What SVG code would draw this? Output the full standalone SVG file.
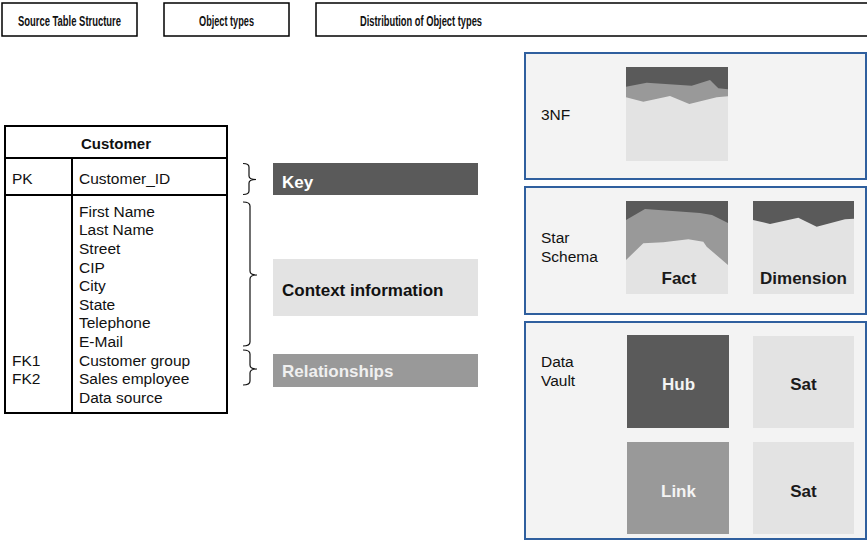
<svg xmlns="http://www.w3.org/2000/svg" width="867" height="541" viewBox="0 0 867 541">
  <style>
    text { font-family: "Liberation Sans", Arial, sans-serif; }
    .hdr { fill: #fff; stroke: #000; stroke-width: 1.5; }
    .hdr-t { font-size: 15.5px; font-weight: bold; fill: #111; text-anchor: middle; }
    .tbl { fill: #fff; stroke: #000; stroke-width: 2; }
    .tbl-line { stroke: #000; stroke-width: 2; fill: none; }
    .fld { font-size: 15.5px; fill: #111; }
    .brace { fill: none; stroke: #111; stroke-width: 1.2; }
    .ot { font-size: 17px; font-weight: bold; }
    .panel { fill: #f3f3f3; stroke: #2f5f9e; stroke-width: 2; }
    .plabel { font-size: 15.5px; fill: #111; }
    .dark { fill: #5a5a5a; }
    .mid { fill: #999999; }
    .light { fill: #e3e3e3; }
    .lbl-w { font-size: 17px; font-weight: bold; fill: #f4f4f4; text-anchor: middle; }
    .lbl-d { font-size: 17px; font-weight: bold; fill: #1a1a1a; text-anchor: middle; }
  </style>

  <!-- column headers -->
  <g id="header-source">
    <rect class="hdr" x="2" y="3" width="135" height="33"/>
    <text class="hdr-t" x="69.5" y="26" textLength="103" lengthAdjust="spacingAndGlyphs">Source Table Structure</text>
  </g>
  <g id="header-objects">
    <rect class="hdr" x="164" y="3" width="125" height="33"/>
    <text class="hdr-t" x="226.5" y="26" textLength="55" lengthAdjust="spacingAndGlyphs">Object types</text>
  </g>
  <g id="header-distribution">
    <rect class="hdr" x="316" y="3" width="560" height="33"/>
    <text class="hdr-t" x="421" y="26" textLength="122" lengthAdjust="spacingAndGlyphs">Distribution of Object types</text>
  </g>

  <!-- source table -->
  <g id="customer-table">
    <rect class="tbl" x="5" y="126" width="222" height="287"/>
    <line class="tbl-line" x1="5" y1="158" x2="227" y2="158"/>
    <line class="tbl-line" x1="5" y1="195" x2="227" y2="195"/>
    <line class="tbl-line" x1="72" y1="158" x2="72" y2="413"/>
    <text x="116" y="149" font-size="15" font-weight="bold" text-anchor="middle" fill="#111">Customer</text>
    <text class="fld" x="12" y="184">PK</text>
    <text class="fld" x="79" y="184">Customer_ID</text>
    <text class="fld" x="79" y="216.7">First Name</text>
    <text class="fld" x="79" y="235.3">Last Name</text>
    <text class="fld" x="79" y="253.9">Street</text>
    <text class="fld" x="79" y="272.5">CIP</text>
    <text class="fld" x="79" y="291.1">City</text>
    <text class="fld" x="79" y="309.7">State</text>
    <text class="fld" x="79" y="328.3">Telephone</text>
    <text class="fld" x="79" y="346.9">E-Mail</text>
    <text class="fld" x="12" y="365.5">FK1</text>
    <text class="fld" x="79" y="365.5">Customer group</text>
    <text class="fld" x="12" y="384.1">FK2</text>
    <text class="fld" x="79" y="384.1">Sales employee</text>
    <text class="fld" x="79" y="402.7">Data source</text>
  </g>

  <!-- braces grouping the table rows -->
  <g id="connectors">
    <path class="brace" d="M243,163.5 Q249,163.5 249,167 L249,176 Q249,179.5 256,179.5 Q249,179.5 249,183 L249,191 Q249,194.5 243,194.5"/>
    <path class="brace" d="M243,202 Q250,202 250,206 L250,271 Q250,275 257,275 Q250,275 250,279 L250,342 Q250,346 243,346"/>
    <path class="brace" d="M243,350 Q250,350 250,354 L250,365 Q250,369 257,369 Q250,369 250,373 L250,381 Q250,385 243,385"/>
  </g>

  <!-- object types -->
  <g id="type-key">
    <rect x="273" y="163" width="205" height="32" fill="#5a5a5a"/>
    <text class="ot" x="282" y="187.5" fill="#fff">Key</text>
  </g>
  <g id="type-context">
    <rect x="273" y="259" width="205" height="57" fill="#e3e3e3"/>
    <text class="ot" x="282" y="295.5" fill="#111">Context information</text>
  </g>
  <g id="type-relationships">
    <rect x="273" y="354" width="205" height="33" fill="#999999"/>
    <text class="ot" x="282" y="376.5" fill="#f0f0f0">Relationships</text>
  </g>

  <!-- 3NF -->
  <g id="panel-3nf">
    <rect class="panel" x="525" y="53" width="341" height="126"/>
    <text class="plabel" x="541" y="120">3NF</text>
    <rect class="dark" x="626" y="67" width="102" height="94"/>
    <polygon class="mid" points="626,86.7 646.7,82.7 691.7,85.7 710,80 718.3,88.3 728,89.3 728,161 626,161"/>
    <polygon class="light" points="626,97.3 643.3,101.7 670,96 689.3,104 716.7,97.3 728,96.3 728,161 626,161"/>
  </g>

  <!-- Star schema -->
  <g id="panel-star">
    <rect class="panel" x="525" y="187" width="341" height="127"/>
    <text class="plabel" x="541" y="243">Star</text>
    <text class="plabel" x="541" y="262">Schema</text>
  </g>
  <g id="star-fact">
    <rect class="dark" x="626" y="201" width="102" height="93"/>
    <polygon class="mid" points="626,220 645,209 700,213 712,215 728,223 728,294 626,294"/>
    <polygon class="light" points="626,260 643.3,243.3 663.3,242.3 688.3,239.3 703.3,241.7 706.7,246.7 728,265 728,294 626,294"/>
    <text class="lbl-d" x="679" y="284">Fact</text>
  </g>
  <g id="star-dimension">
    <rect class="dark" x="753" y="201" width="101" height="93"/>
    <polygon class="light" points="753,220 770,224 798.3,217.7 816.7,226.7 845,219.3 854,218.7 854,294 753,294"/>
    <text class="lbl-d" x="803.5" y="284">Dimension</text>
  </g>

  <!-- Data Vault -->
  <g id="panel-vault">
    <rect class="panel" x="525" y="322" width="341" height="217"/>
    <text class="plabel" x="541" y="367">Data</text>
    <text class="plabel" x="541" y="386">Vault</text>
  </g>
  <g id="vault-hub">
    <rect class="dark" x="627" y="335" width="102" height="93"/>
    <text class="lbl-w" x="678.5" y="390">Hub</text>
  </g>
  <g id="vault-sat-1">
    <rect class="light" x="753" y="336" width="101" height="92"/>
    <text class="lbl-d" x="803.5" y="390">Sat</text>
  </g>
  <g id="vault-link">
    <rect class="mid" x="627" y="442" width="102" height="92"/>
    <text class="lbl-w" x="678.5" y="497">Link</text>
  </g>
  <g id="vault-sat-2">
    <rect class="light" x="753" y="442" width="101" height="92"/>
    <text class="lbl-d" x="803.5" y="497">Sat</text>
  </g>
</svg>
